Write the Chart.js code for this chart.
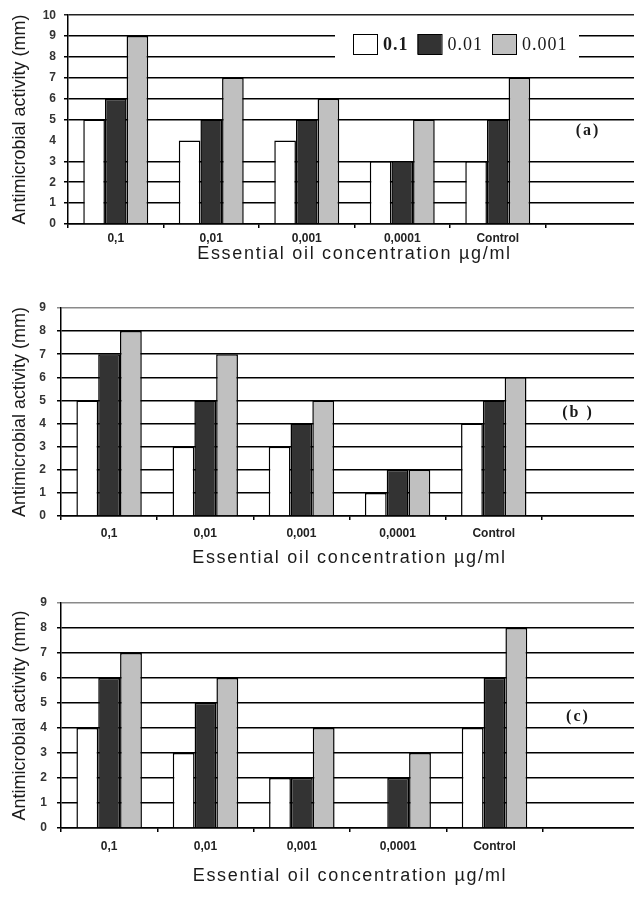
<!DOCTYPE html>
<html>
<head>
<meta charset="utf-8">
<script src="https://cdn.jsdelivr.net/npm/chart.js@4.4.1/dist/chart.umd.min.js"></script>
<style>
  html, body { margin: 0; padding: 0; background: #fff; }
  body { width: 634px; height: 897px; overflow: hidden; position: relative; }
  .panel { position: absolute; left: 0; }
</style>
</head>
<body>
<div class="panel" style="top:0px"><canvas id="chartA" width="641" height="267"></canvas></div>
<div class="panel" style="top:280px"><canvas id="chartB" width="638" height="291"></canvas></div>
<div class="panel" style="top:585px"><canvas id="chartC" width="639" height="304"></canvas></div>
<script>
const CATEGORIES    = ['0,1', '0,01', '0,001', '0,0001', 'Control', ''];
const SERIES_LABELS = ['0.1', '0.01', '0.001'];

// panel (a)
const A_LOW  = [5, 4, 4, 3, 3, null];
const A_MID  = [6, 5, 5, 3, 5, null];
const A_HIGH = [9, 7, 6, 5, 7, null];
// panel (b)
const B_LOW  = [5, 3, 3, 1, 4, null];
const B_MID  = [7, 5, 4, 2, 5, null];
const B_HIGH = [8, 7, 5, 2, 6, null];
// panel (c)
const C_LOW  = [4, 3, 2, 0, 4, null];
const C_MID  = [6, 5, 2, 2, 6, null];
const C_HIGH = [7, 6, 4, 3, 8, null];

const Y_TITLE = 'Antimicrobial activity (mm)';
const X_TITLE = 'Essential oil concentration µg/ml';

const FILLS    = ['#ffffff', '#333333', '#c0c0c0'];
const SANS     = "'Liberation Sans', Arial, sans-serif";
const SERIF    = "'Liberation Serif', 'Times New Roman', serif";
const INK      = '#1a1a1a';

Chart.defaults.font.family = SANS;

// panel label "(a)" + the boxed legend of panel (a)
const panelDecor = {
  id: 'panelDecor',
  beforeDraw(chart) {
    // the source figure is horizontally stretched: widen the x title a bit
    const s = chart.scales.x;
    if (s && !s._spaced) {
      const orig = s.drawTitle;
      s.drawTitle = function (...args) {
        this.ctx.save();
        this.ctx.letterSpacing = '1.7px';
        orig.apply(this, args);
        this.ctx.restore();
      };
      s._spaced = true;
    }
  },
  afterDraw(chart, args, opts) {
    const { ctx } = chart;
    ctx.save();
    if (opts.text) {
      ctx.font = 'bold 16px ' + SERIF;
      ctx.letterSpacing = '2px';
      ctx.fillStyle = INK;
      ctx.textAlign = 'center';
      ctx.textBaseline = 'middle';
      ctx.fillText(opts.text, opts.x, chart.scales.y.getPixelForValue(opts.yValue));
    }
    if (opts.legend) {
      const L = opts.legend;
      ctx.fillStyle = '#fff';
      ctx.fillRect(L.left, L.top, L.width, L.height);
      const cy = L.top + L.height / 2;
      let x = L.left + 18;
      ctx.textAlign = 'left';
      ctx.textBaseline = 'middle';
      chart.data.datasets.forEach((ds, i) => {
        ctx.fillStyle = ds.backgroundColor;
        ctx.fillRect(x, cy - 10, 24, 20);
        ctx.strokeStyle = '#000';
        ctx.lineWidth = 1;
        ctx.strokeRect(x + 0.5, cy - 9.5, 24, 20);
        x += 30;
        ctx.font = (i === 0 ? 'bold ' : '') + '18px ' + SERIF;
        ctx.letterSpacing = '1px';
        ctx.fillStyle = INK;
        ctx.fillText(ds.label, x, cy + 1);
        x += ctx.measureText(ds.label).width + 9;
      });
    }
    ctx.restore();
  },
};

function makePanel(id, series, cfg) {
  const datasets = series.map((data, i) => ({
    label:           SERIES_LABELS[i],
    data,
    backgroundColor: FILLS[i],
    borderColor:     '#000',
    borderWidth:     1.5,
    categoryPercentage: 0.68,
    barPercentage:   1.0,
  }));

  return new Chart(document.getElementById(id), {
    type: 'bar',
    data: { labels: CATEGORIES, datasets },
    plugins: [panelDecor],
    options: {
      responsive: false,
      animation:  false,
      layout:     { padding: { top: cfg.padTop, right: 0, bottom: 0, left: 0 } },
      plugins: {
        legend:  { display: false },
        tooltip: { enabled: false },
        panelDecor: cfg.decor,
      },
      scales: {
        x: {
          grid: {
            drawOnChartArea: false,
            drawTicks:       true,
            tickLength:      4,
            color:           '#000',
            lineWidth:       1.5,
          },
          border: { color: '#000', width: 1.5 },
          ticks: {
            font:        { size: 12, weight: 'bold' },
            color:       '#222',
            padding:     cfg.xTickPad,
            maxRotation: 0,
            autoSkip:    false,
          },
          title: {
            display: true,
            text:    X_TITLE,
            font:    { size: 18 },
            color:   INK,
            padding: { top: 0, bottom: 2 },
          },
          afterFit: (s) => { s.height = cfg.xHeight; },
        },
        y: {
          min: 0,
          max: cfg.yMax,
          ticks: {
            stepSize: 1,
            font:     { size: 12, weight: 'bold' },
            color:    '#333',
            padding:  cfg.yTickPad,
          },
          grid: {
            tickLength: 4,
            lineWidth:  1.5,
            color: (c) => {
              if (cfg.hideLine != null && c.tick && c.tick.value === cfg.hideLine) return 'rgba(0,0,0,0)';
              if (c.tick && c.tick.value === cfg.yMax) return cfg.topColor;
              return '#000';
            },
          },
          border: { color: '#000', width: 1.5 },
          title: {
            display: true,
            text:    Y_TITLE,
            font:    { size: 18 },
            color:   INK,
            padding: { top: 9, bottom: 0 },
          },
          afterFit: (s) => { s.width = cfg.yWidth; },
        },
      },
    },
  });
}

makePanel('chartA', [A_LOW, A_MID, A_HIGH], {
  padTop: 15, yMax: 10, yWidth: 68, xHeight: 43, xTickPad: 3, yTickPad: 8,
  topColor: '#222', hideLine: 4,
  decor: { text: '(a)', x: 588, yValue: 4.45,
           legend: { left: 335, top: 28, width: 244, height: 32 } },
});

makePanel('chartB', [B_LOW, B_MID, B_HIGH], {
  padTop: 28, yMax: 9, yWidth: 61, xHeight: 55, xTickPad: 6, yTickPad: 11,
  topColor: '#8a8a8a', hideLine: null,
  decor: { text: '(b )', x: 578, yValue: 4.45 },
});

makePanel('chartC', [C_LOW, C_MID, C_HIGH], {
  padTop: 18, yMax: 9, yWidth: 61, xHeight: 61, xTickPad: 7, yTickPad: 10,
  topColor: '#8a8a8a', hideLine: null,
  decor: { text: '(c)', x: 578, yValue: 4.45 },
});
</script>
</body>
</html>
